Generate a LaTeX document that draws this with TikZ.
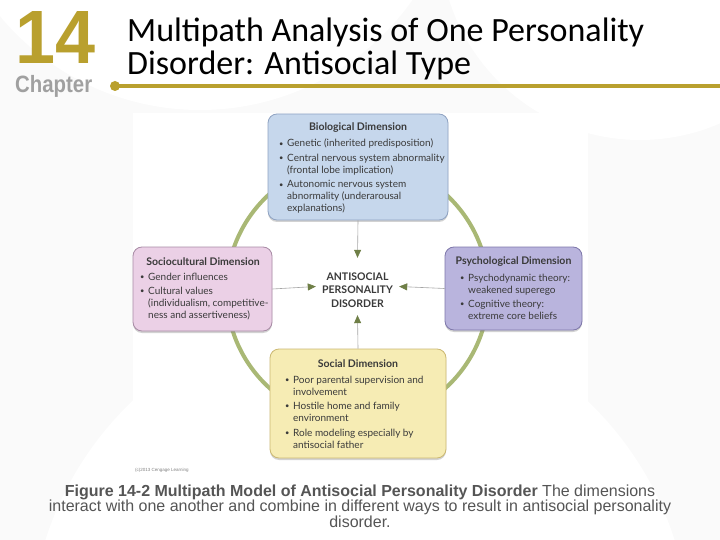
\documentclass[tikz,border=0pt]{standalone}
\usepackage{fontspec}
\usepackage{graphicx}
\usetikzlibrary{arrows.meta,shadows}
\newfontfamily\boxfont{Lato}
\newfontfamily\headfont{Carlito}
\newfontfamily\capfont{Liberation Sans}
\definecolor{gold}{HTML}{B9A02E}
\definecolor{chapgray}{HTML}{A0A0A0}
\definecolor{biofill}{HTML}{C6D7EC}
\definecolor{bioline}{HTML}{8FA3C2}
\definecolor{socfill}{HTML}{EBD0E6}
\definecolor{socline}{HTML}{A88BA5}
\definecolor{psyfill}{HTML}{B9B4DD}
\definecolor{psyline}{HTML}{7E77AA}
\definecolor{salfill}{HTML}{F6ECB4}
\definecolor{salline}{HTML}{CBB872}
\definecolor{ringcol}{HTML}{A9B875}
\definecolor{tipcol}{HTML}{6F7F47}
\definecolor{txtcol}{HTML}{3A3A3A}
\definecolor{capcol}{HTML}{555555}
\newcommand{\bul}{\makebox[8pt][l]{\raisebox{0.6pt}{\scalebox{0.75}{\textbullet}}}}
\newcommand{\cnt}{\hspace*{8pt}}
\tikzset{
  dimbox/.style={draw, line width=0.8pt, rounded corners=9pt, inner sep=0pt,
    drop shadow={shadow xshift=0pt, shadow yshift=-2pt, opacity=0.35}},
  dimtitle/.style={font=\boxfont\bfseries\fontsize{10.5}{12}\selectfont, text=txtcol, inner sep=0pt},
  dimlist/.style={font=\boxfont\fontsize{10}{12}\selectfont, text=txtcol, align=left, inner sep=0pt, anchor=north west},
  link/.style={draw=gray!70, line width=0.6pt, -{Triangle[length=8pt,width=7pt,fill=tipcol,color=tipcol]}}
}
\begin{document}
\begin{tikzpicture}[x=1pt,y=-1pt]
\useasboundingbox (0,0) rectangle (720,540);
% faint background
\fill[black!2] (0,0) rectangle (720,540);
\fill[white] (360,640) circle (330pt);
\fill[white] (200,-150) circle (260pt);
\fill[white] (640,-60) circle (200pt);
\fill[white] (133,113) rectangle (588,475);
% header
\node[anchor=north west, inner sep=0pt, text=gold] (num) at (15,11)
  {\resizebox*{80pt}{52pt}{\capfont\bfseries 14}};
\node[anchor=north west, inner sep=0pt, text=chapgray] (chap) at (15,75)
  {\resizebox*{77pt}{22pt}{\capfont\bfseries Chapter}};
\node[anchor=base west, inner sep=0pt, font=\headfont\fontsize{34}{33}\selectfont, align=left] (title) at (127,75)
  {Multipath Analysis of One Personality\\Disorder: Antisocial Type};
\draw[gold, line width=3.5pt] (115,86) -- (720,86);
\fill[gold] (115,86) circle (5pt);
% ring
\draw[ringcol, line width=4pt] (357.5,291) circle (131pt);
% boxes
\node[dimbox, fill=biofill, draw=bioline, minimum width=180pt, minimum height=106pt] (bio) at (358,167) {};
\node[dimbox, fill=socfill, draw=socline, minimum width=139pt, minimum height=84pt] (socio) at (202.5,289) {};
\node[dimbox, fill=psyfill, draw=psyline, minimum width=137pt, minimum height=83pt] (psych) at (513.5,288.5) {};
\node[dimbox, fill=salfill, draw=salline, minimum width=176pt, minimum height=109pt] (social) at (358,403.5) {};
% box texts
\node[dimtitle] (biot) at (358,127.5) {Biological Dimension};
\node[dimlist] (biol) at (279,139) {\bul Genetic (inherited predisposition)\\[2.5pt]
\bul Central nervous system abnormality\\ \cnt(frontal lobe implication)\\[2.5pt]
\bul Autonomic nervous system\\ \cnt abnormality (underarousal\\ \cnt explanations)};
\node[dimtitle] (soct) at (203,262) {Sociocultural Dimension};
\node[dimlist] (socl) at (140,273) {\bul Gender influences\\[2pt]
\bul Cultural values\\ \cnt(individualism, competitive-\\ \cnt ness and assertiveness)};
\node[dimtitle] (psyt) at (513.5,262) {Psychological Dimension};
\node[dimlist] (psyl) at (460,273.5) {\bul Psychodynamic theory:\\ \cnt weakened superego\\[2pt]
\bul Cognitive theory:\\ \cnt extreme core beliefs};
\node[dimtitle] (salt) at (358,363.5) {Social Dimension};
\node[dimlist] (sall) at (285,375.5) {\bul Poor parental supervision and\\ \cnt involvement\\[2.5pt]
\bul Hostile home and family\\ \cnt environment\\[2.5pt]
\bul Role modeling especially by\\ \cnt antisocial father};
% center
\node[minimum width=83pt, minimum height=57pt, inner sep=0pt] (asp) at (357.5,286.5) {};
\node[font=\boxfont\bfseries\fontsize{10.5}{13.5}\selectfont, text=txtcol, align=center, inner sep=0pt] (asptext) at (357.5,290)
  {ANTISOCIAL\\PERSONALITY\\DISORDER};
\draw[link] (bio.south) -- (asp.north);
\draw[link] (social.north) -- (asp.south);
\draw[link] (socio.east) -- (asp.west);
\draw[link] (psych.west) -- (asp.east);
% credit
\node[anchor=base west, inner sep=0pt, font=\capfont\fontsize{4.5}{5}\selectfont, text=gray] (cred) at (135,471) {(c)2013 Cengage Learning};
% caption
\node[anchor=base, inner sep=0pt, font=\capfont\fontsize{16}{15.5}\selectfont, text=capcol, align=center] (cap) at (360,527)
  {\textbf{Figure 14-2 Multipath Model of Antisocial Personality Disorder} The dimensions\\
  interact with one another and combine in different ways to result in antisocial personality\\
  disorder.};
\end{tikzpicture}
\end{document}
